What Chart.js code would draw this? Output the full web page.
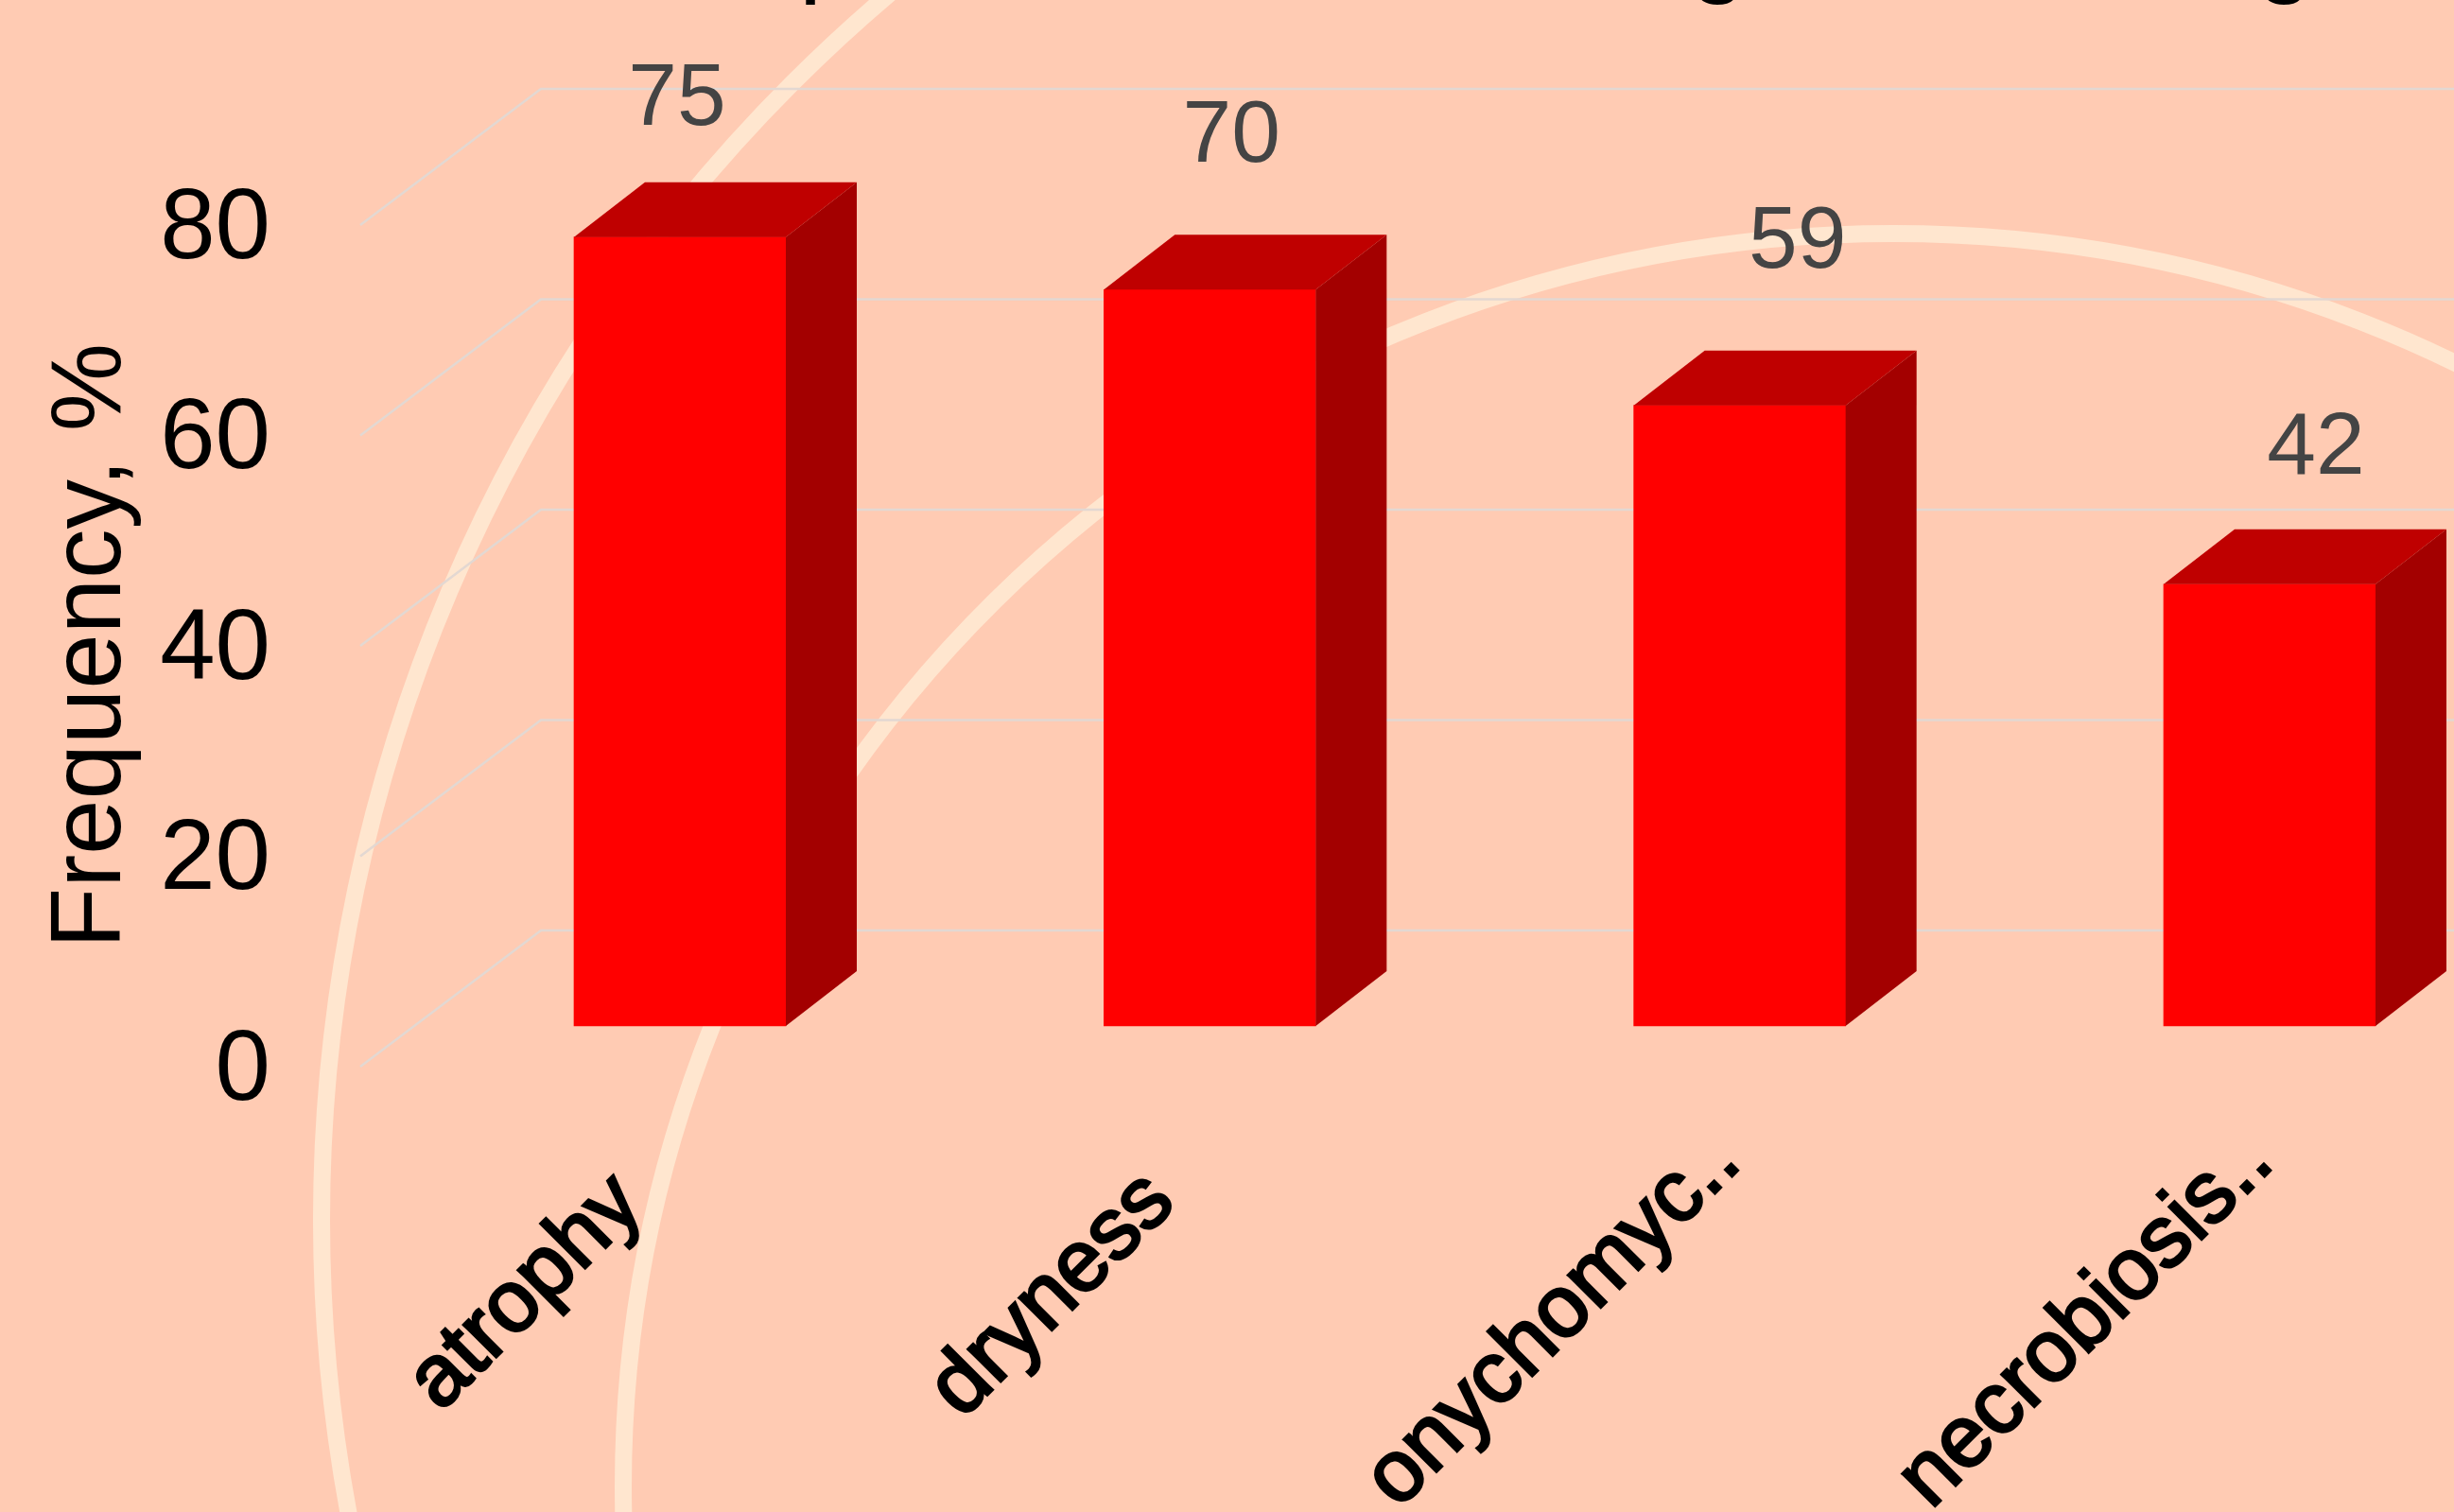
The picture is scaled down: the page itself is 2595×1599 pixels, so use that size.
<!DOCTYPE html>
<html>
<head>
<meta charset="utf-8">
<style>
html, body { margin: 0; padding: 0; background: #ffcbb3; overflow: hidden; }
canvas { display: block; }
</style>
<script src="https://cdn.jsdelivr.net/npm/chart.js@4"></script>
</head>
<body>
<canvas id="chart" width="2595" height="1599"></canvas>
<script>
const categories = ['atrophy', 'dryness', 'onychomyc..', 'necrobiosis..'];
const frequency = [75, 70, 59, 42];
const yTicks = [0, 20, 40, 60, 80];

// labels sit unevenly in the original, so nudge them from their anchor
const labelNudgeX = [-3, 23, 61, 49];
const labelNudgeY = [-144, -161, -171, -142];
const catNudgeX = [-54, -52, -14, -11];
const catNudgeY = [131, 128, 86, 86];

const depthX = 75, depthY = 58;       // bar depth
const wallLeft = 381, wallX = 191, wallY = 144; // side wall of the 3d frame
const yMax = 100;
const tickDrop = 6;                   // tick labels sit a little under their gridline
const barLift = (43 + tickDrop) / 11.125; // bars stand this far above the axis zero

const backdrop = {
    id: 'backdrop',
    beforeDraw(chart) {
        const ctx = chart.ctx;
        ctx.save();
        ctx.fillStyle = '#ffcbb3';
        ctx.fillRect(0, 0, chart.width, chart.height);
        // background swirl, just decoration
        ctx.strokeStyle = '#ffe6cf';
        ctx.lineWidth = 18;
        ctx.beginPath();
        ctx.arc(2040, 1290, 1700, 0, Math.PI * 2);
        ctx.stroke();
        ctx.beginPath();
        ctx.ellipse(2002, 1572, 1343, 1325, 0, 0, Math.PI * 2);
        ctx.stroke();
        // cut off title, only the descenders reach the picture
        ctx.fillStyle = '#000';
        ctx.font = '108px "Liberation Sans"';
        ctx.textAlign = 'center';
        ctx.textBaseline = 'alphabetic';
        ctx.fillText('p', 875, -17);
        ctx.fillText('g', 1817, -17);
        ctx.fillText('g', 2416, -17);
        ctx.restore();
    },
    beforeDatasetsDraw(chart) {
        const ctx = chart.ctx, y = chart.scales.y;
        ctx.save();
        ctx.strokeStyle = '#e3d8d2';
        ctx.lineWidth = 2.5;
        yTicks.forEach(t => {
            const py = y.getPixelForValue(t) - tickDrop;
            ctx.beginPath();
            ctx.moveTo(wallLeft, py);
            ctx.lineTo(wallLeft + wallX, py - wallY);
            ctx.lineTo(chart.width, py - wallY);
            ctx.stroke();
        });
        ctx.restore();
    }
};

const bars3d = {
    id: 'bars3d',
    afterDatasetsDraw(chart) {
        const ctx = chart.ctx;
        const bars = chart.getDatasetMeta(0).data;
        ctx.save();
        bars.forEach((bar, i) => {
            const l = bar.x - bar.width / 2, r = bar.x + bar.width / 2;
            ctx.fillStyle = '#bf0000';
            ctx.beginPath();
            ctx.moveTo(l, bar.y);
            ctx.lineTo(l + depthX, bar.y - depthY);
            ctx.lineTo(r + depthX, bar.y - depthY);
            ctx.lineTo(r, bar.y);
            ctx.closePath();
            ctx.fill();
            ctx.fillStyle = '#a30000';
            ctx.beginPath();
            ctx.moveTo(r, bar.y);
            ctx.lineTo(r + depthX, bar.y - depthY);
            ctx.lineTo(r + depthX, bar.base - depthY);
            ctx.lineTo(r, bar.base);
            ctx.closePath();
            ctx.fill();
            ctx.fillStyle = '#444';
            ctx.font = '93px "Liberation Sans"';
            ctx.textAlign = 'center';
            ctx.textBaseline = 'middle';
            ctx.fillText(frequency[i], bar.x + labelNudgeX[i], bar.y + labelNudgeY[i]);
        });
        ctx.restore();
    },
    afterDraw(chart) {
        const ctx = chart.ctx, x = chart.scales.x, base = chart.scales.y.getPixelForValue(0) - tickDrop;
        ctx.save();
        ctx.fillStyle = '#000';
        ctx.strokeStyle = '#000';
        ctx.lineWidth = 3;
        ctx.font = '92px "Liberation Sans"';
        ctx.textAlign = 'right';
        ctx.textBaseline = 'middle';
        categories.forEach((c, i) => {
            ctx.save();
            ctx.translate(x.getPixelForTick(i) + catNudgeX[i], base + catNudgeY[i]);
            ctx.rotate(-Math.PI / 4);
            ctx.fillText(c, 0, 0);
            ctx.strokeText(c, 0, 0);
            ctx.restore();
        });
        // axis title, placed by hand because it is not centred on the scale
        ctx.font = '105px "Liberation Sans"';
        ctx.textAlign = 'center';
        ctx.textBaseline = 'alphabetic';
        ctx.translate(127, 683);
        ctx.rotate(-Math.PI / 2);
        ctx.fillText('Frequency, %', 0, 0);
        ctx.restore();
    }
};

new Chart(document.getElementById('chart'), {
    type: 'bar',
    data: {
        labels: categories,
        datasets: [{
            data: frequency,
            yAxisID: 'yBars',
            backgroundColor: '#ff0000',
            barThickness: 224,
            clip: false
        }]
    },
    options: {
        responsive: false,
        animation: false,
        devicePixelRatio: 1,
        layout: { padding: { top: 21.5, right: 195, bottom: 0, left: 0 } },
        plugins: { legend: { display: false }, tooltip: { enabled: false } },
        scales: {
            x: {
                offset: false,
                grid: { display: false, drawTicks: false },
                border: { display: false },
                afterFit(scale) { scale.height = 465; scale.paddingLeft = 0; scale.paddingRight = 0; },
                ticks: { display: false }
            },
            y: {
                min: 0,
                max: yMax,
                afterFit(scale) { scale.width = 719; scale.paddingTop = 0; scale.paddingBottom = 0; },
                afterBuildTicks(scale) { scale.ticks = yTicks.map(v => ({ value: v })); },
                grid: { display: false, drawTicks: false },
                border: { display: false },
                ticks: {
                    padding: 433,
                    color: '#000',
                    font: { family: 'Liberation Sans', size: 105 }
                }
            },
            yBars: {
                display: false,
                min: -barLift,
                max: yMax - barLift
            }
        }
    },
    plugins: [backdrop, bars3d]
});
</script>
</body>
</html>
